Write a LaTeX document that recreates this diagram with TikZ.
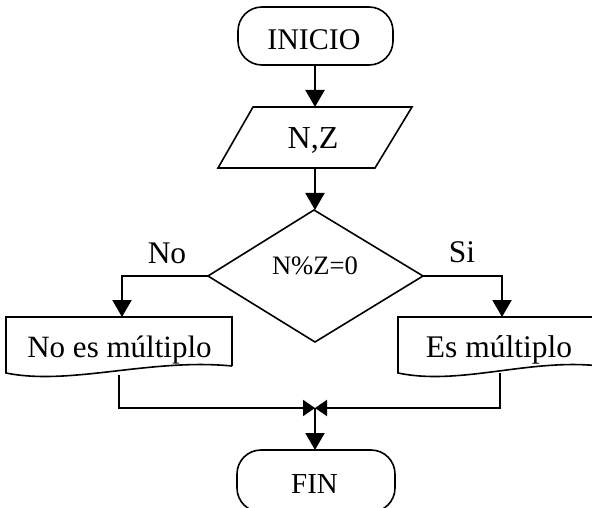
\documentclass[tikz,border=0pt]{standalone}
\usepackage{fontspec}
\setmainfont{Liberation Serif}
\usetikzlibrary{arrows.meta}
\begin{document}
\begin{tikzpicture}[x=1pt,y=-1pt,
  shapeline/.style={line width=1.6pt, line join=miter},
  conn/.style={line width=2.2pt,-{Triangle[length=17pt,width=19pt]}},
  joinarr/.style={line width=2pt,-{Triangle[length=12pt,width=16pt]}},
  plain/.style={line width=2pt},
  txt/.style={anchor=base, inner sep=0pt},
  fs/.style={font=\fontsize{#1}{#1}\selectfont},
]
\useasboundingbox (0,0) rectangle (592,508);
\begin{scope}
\clip (0,0) rectangle (592,508);
% shapes
\draw[shapeline, rounded corners=24pt] (238,7) rectangle (393,65);
\draw[shapeline] (253,107) -- (412,107) -- (375,168) -- (218,168) -- cycle;
\draw[shapeline] (314,210) -- (423,276) -- (315,342) -- (208,276) -- cycle;
\draw[shapeline] (232,366) -- (232,317) -- (6,317) -- (6,373)
  .. controls (70,386) and (150,358) .. (232,366);
\draw[shapeline] (600,366) -- (600,317) -- (398,317) -- (398,373)
  .. controls (460,386) and (530,358) .. (600,366);
\draw[shapeline, rounded corners=24pt] (237,450) rectangle (395,512);
% texts
\node[txt, fs=30] (inicio) at (314,50) {INICIO};
\node[txt, fs=32] (nz) at (313,149) {N,Z};
\node[txt, fs=26.6] (cond) at (315,274) {N\%Z=0};
\node[txt, fs=31.5] (nolab) at (167,263) {No};
\node[txt, fs=31.5] (silab) at (462,262) {Si};
\node[txt, fs=31] (nomult) at (119.5,357) {No es múltiplo};
\node[txt, fs=31.5] (esmult) at (499,357) {Es múltiplo};
\node[txt, fs=29] (fin) at (314.5,493) {FIN};
% anchor points
\coordinate (inicioB) at (315,65);
\coordinate (nzT) at (315,107);
\coordinate (nzB) at (315,168);
\coordinate (condT) at (315,210);
\coordinate (condL) at (208,276);
\coordinate (condR) at (423,276);
\coordinate (leftTurn) at (122,276);
\coordinate (rightTurn) at (502,276);
\coordinate (nomultT) at (122,317);
\coordinate (esmultT) at (502,317);
\coordinate (nomultB) at (119,375);
\coordinate (esmultB) at (500,373);
\coordinate (leftDown) at (119,408);
\coordinate (rightDown) at (500,408);
\coordinate (merge) at (315,408);
\coordinate (finT) at (315,450);
% connectors
\draw[conn] (inicioB) -- (nzT);
\draw[conn] (nzB) -- (condT);
\draw[conn] (condL) -- (leftTurn) -- (nomultT);
\draw[conn] (condR) -- (rightTurn) -- (esmultT);
\draw[joinarr] (nomultB) -- (leftDown) -- (merge);
\draw[joinarr] (esmultB) -- (rightDown) -- (merge);
\draw[conn] (merge) -- (finT);
\end{scope}
\end{tikzpicture}
\end{document}
